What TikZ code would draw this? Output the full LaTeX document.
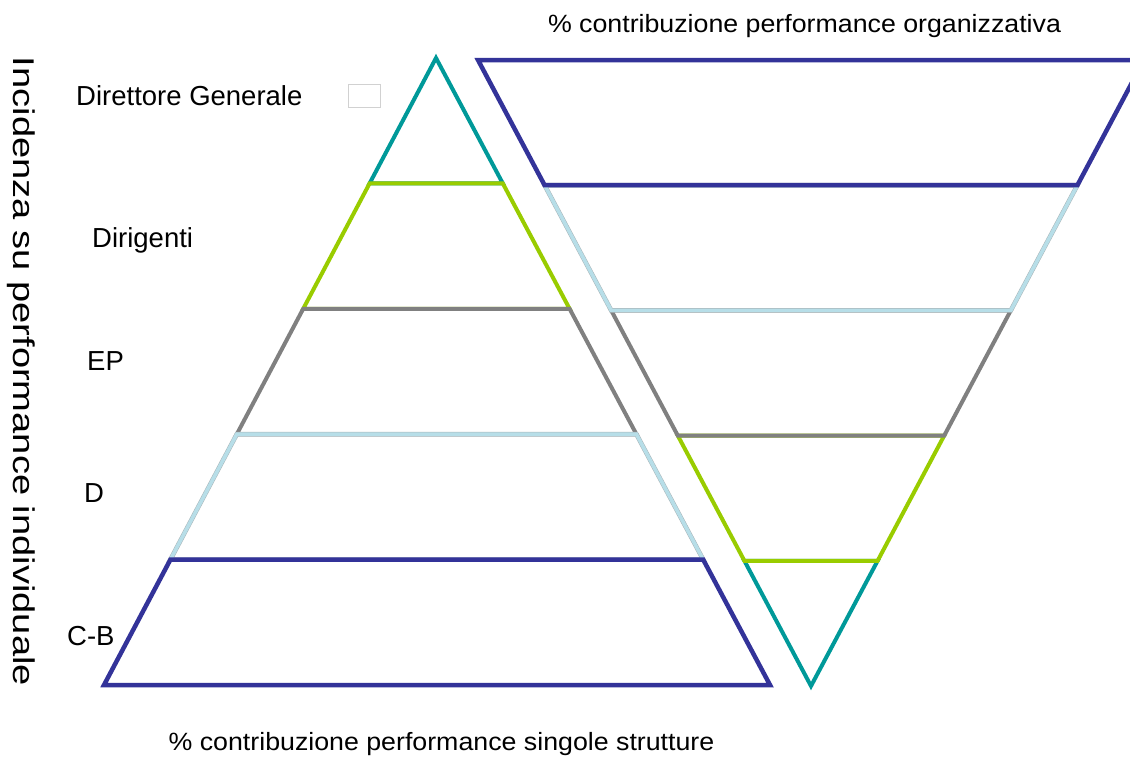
\documentclass[tikz,border=0pt]{standalone}
\usepackage{fontspec}
\setmainfont{Liberation Sans}
\newfontfamily\widefont[FakeStretch=1.07]{Liberation Sans}
\newfontfamily\tallfont[FakeStretch=1.27]{Liberation Sans}
\definecolor{cblue}{HTML}{333399}
\definecolor{cteal}{HTML}{009999}
\definecolor{cgreen}{HTML}{99CC00}
\definecolor{cgray}{HTML}{808080}
\definecolor{clight}{HTML}{B7DEE8}
\definecolor{cshadow}{HTML}{A8B4B8}
\begin{document}
\begin{tikzpicture}[x=1pt,y=-1pt,
  band/.style={line width=4pt, line join=miter},
  tealband/.style={band, draw=cteal},
  greenband/.style={band, draw=cgreen},
  grayband/.style={band, draw=cgray},
  lightband/.style={line width=3.6pt, line join=miter, draw=clight,
     preaction={draw=cshadow, line width=4.6pt, line join=miter}},
  blueband/.style={line width=4.5pt, line join=miter, draw=cblue},
  lvl/.style={anchor=base west, inner sep=0pt, font=\fontsize{27.5}{33}\selectfont},
  axis/.style={anchor=base, inner sep=0pt, font=\widefont\fontsize{25}{30}\selectfont}]
\useasboundingbox (0,0) rectangle (1130,756);
\clip (0,0) rectangle (1130,756);
% pyramid coordinates
\coordinate (P0) at (436,58);
\coordinate (L1) at (369.6,183.4); \coordinate (R1) at (502.8,183.4);
\coordinate (L2) at (303.2,308.8); \coordinate (R2) at (569.6,308.8);
\coordinate (L3) at (236.8,434.2); \coordinate (R3) at (636.4,434.2);
\coordinate (L4) at (170.4,559.6); \coordinate (R4) at (703.2,559.6);
\coordinate (L5) at (104,685);     \coordinate (R5) at (770,685);
% inverted pyramid coordinates
\coordinate (Q0) at (811,686);
\coordinate (A0) at (478,60);      \coordinate (B0) at (1144,60);
\coordinate (A1) at (544.6,185.2); \coordinate (B1) at (1077.4,185.2);
\coordinate (A2) at (611.2,310.4); \coordinate (B2) at (1010.8,310.4);
\coordinate (A3) at (677.8,435.6); \coordinate (B3) at (944.2,435.6);
\coordinate (A4) at (744.4,560.8); \coordinate (B4) at (877.6,560.8);
% pyramid bands
\draw[tealband]  (P0) -- (R1) -- (L1) -- cycle;
\draw[greenband] (L1) -- (R1) -- (R2) -- (L2) -- cycle;
\draw[grayband]  (L2) -- (R2) -- (R3) -- (L3) -- cycle;
\draw[lightband] (L3) -- (R3) -- (R4) -- (L4) -- cycle;
\draw[blueband]  (L4) -- (R4) -- (R5) -- (L5) -- cycle;
% inverted pyramid bands
\draw[tealband]  (A4) -- (B4) -- (Q0) -- cycle;
\draw[greenband] (A3) -- (B3) -- (B4) -- (A4) -- cycle;
\draw[grayband]  (A2) -- (B2) -- (B3) -- (A3) -- cycle;
\draw[lightband] (A1) -- (B1) -- (B2) -- (A2) -- cycle;
\draw[blueband]  (A0) -- (B0) -- (B1) -- (A1) -- cycle;
% small empty box
\node[draw=black!18, line width=1pt, fill=white, minimum width=32pt, minimum height=23pt, inner sep=0pt, anchor=north west] (box) at (348,84) {};
% level labels
\node[lvl] (dg)  at (76,105)  {Direttore Generale};
\node[lvl] (dir) at (92,247)  {Dirigenti};
\node[lvl] (ep)  at (87,370)  {EP};
\node[lvl] (dd)  at (84,502)  {D};
\node[lvl] (cb)  at (67,645)  {C-B};
% axis labels
\node[axis] (org) at (804.5,32) {\% contribuzione performance organizzativa};
\node[axis] (str) at (441.5,750) {\% contribuzione performance singole strutture};
\node[anchor=base, inner sep=0pt, rotate=-90, font=\tallfont\fontsize{30}{36}\selectfont] (inc) at (13,371.5) {Incidenza su performance individuale};
\end{tikzpicture}
\end{document}
